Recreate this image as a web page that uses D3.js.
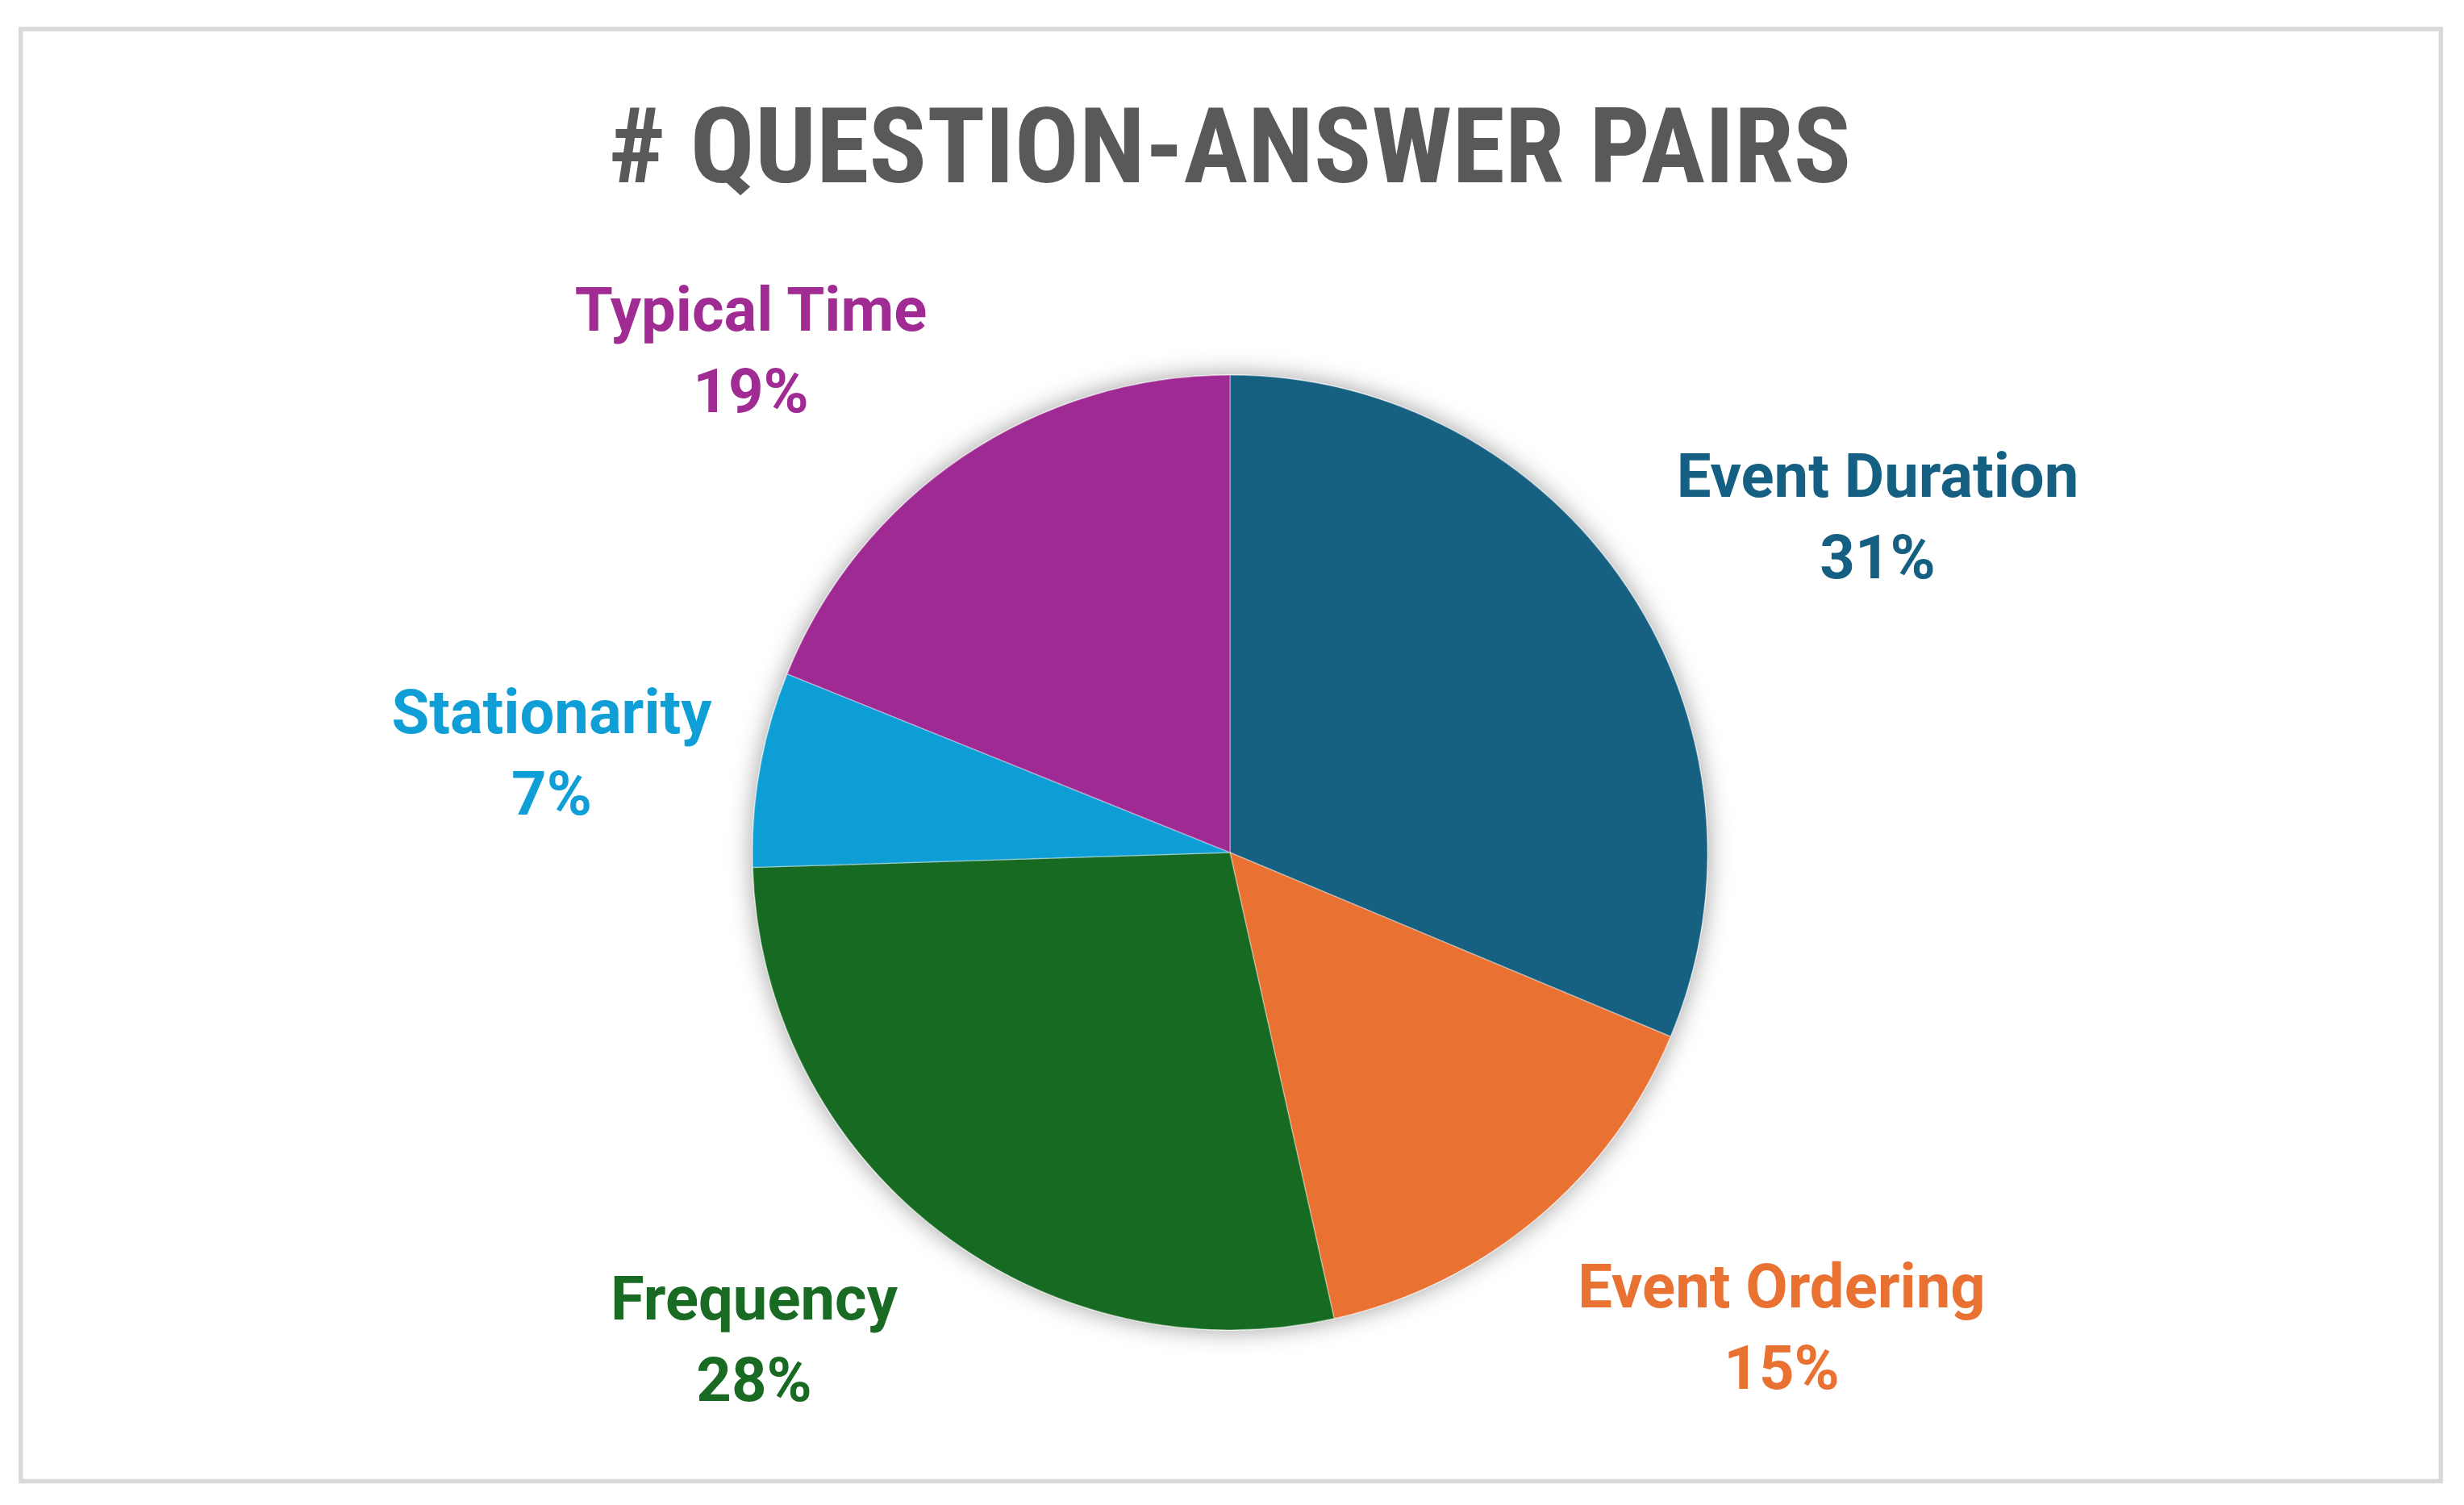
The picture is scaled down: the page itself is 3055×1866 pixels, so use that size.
<!DOCTYPE html>
<html>
<head>
<meta charset="utf-8">
<script src="https://cdn.jsdelivr.net/npm/d3@7"></script>
<style>
  html, body { margin: 0; padding: 0; background: #ffffff; }
  svg { display: block; }
</style>
</head>
<body>
<div id="chart"></div>
<script>
const categories = ['Event Duration', 'Event Ordering', 'Frequency', 'Stationarity', 'Typical Time']
const shares = [31.3, 15.2, 28.0, 6.6, 18.9]
const colors = ['#156082', '#E97132', '#196B24', '#0F9ED5', '#A02B93']
const chartTitle = '# QUESTION-ANSWER PAIRS'

const width = 3055
const height = 1866
const cx = 1525
const cy = 1057
const radius = 592

// label anchors (centre x, baseline of first line)
const labelPos = [
  [2328, 616],
  [2209, 1621],
  [935, 1636],
  [684, 909],
  [931, 410]
]

const svg = d3.select('#chart')
  .append('svg')
  .attr('width', width)
  .attr('height', height)

svg.append('rect')
  .attr('x', 25.75)
  .attr('y', 36)
  .attr('width', 3000.5)
  .attr('height', 1800.5)
  .attr('fill', '#ffffff')
  .attr('stroke', '#d9d9d9')
  .attr('stroke-width', 5.5)

const defs = svg.append('defs')
const shadow = defs.append('filter')
  .attr('id', 'pieShadow')
  .attr('x', '-20%')
  .attr('y', '-20%')
  .attr('width', '140%')
  .attr('height', '140%')
shadow.append('feDropShadow')
  .attr('dx', 0)
  .attr('dy', 0)
  .attr('stdDeviation', 15)
  .attr('flood-color', '#000000')
  .attr('flood-opacity', 0.38)

// title: squeezed to the reference width
svg.append('text')
  .attr('x', cx)
  .attr('y', 226)
  .attr('text-anchor', 'middle')
  .attr('font-family', '"Liberation Sans Narrow", "Roboto Condensed", "DejaVu Sans Condensed", Roboto, sans-serif')
  .attr('font-weight', 700)
  .attr('font-size', 129)
  .attr('fill', '#595959')
  .attr('textLength', 1541)
  .attr('lengthAdjust', 'spacingAndGlyphs')
  .text(chartTitle)

const data = categories.map((c, i) => ({ name: c, value: shares[i], color: colors[i], pos: labelPos[i] }))
const total = d3.sum(shares)

const pie = d3.pie()
  .value(d => d.value)
  .sort(null)

const arc = d3.arc()
  .innerRadius(0)
  .outerRadius(radius)

const g = svg.append('g')
  .attr('transform', `translate(${cx},${cy})`)

g.append('g')
  .attr('filter', 'url(#pieShadow)')
  .selectAll('path')
  .data(pie(data))
  .join('path')
  .attr('d', arc)
  .attr('fill', d => d.data.color)
  .attr('stroke', 'rgba(255,255,255,0.35)')
  .attr('stroke-width', 1.5)

const label = svg.append('g')
  .selectAll('text')
  .data(data)
  .join('text')
  .attr('text-anchor', 'middle')
  .attr('font-family', 'Roboto, "Open Sans", "Liberation Sans", sans-serif')
  .attr('font-weight', 700)
  .attr('font-size', 76)
  .attr('fill', d => d.color)

label.append('tspan')
  .attr('x', d => d.pos[0])
  .attr('y', d => d.pos[1])
  .text(d => d.name)

label.append('tspan')
  .attr('x', d => d.pos[0])
  .attr('y', d => d.pos[1] + 101)
  .text(d => Math.round(d.value / total * 100) + '%')
</script>
</body>
</html>
